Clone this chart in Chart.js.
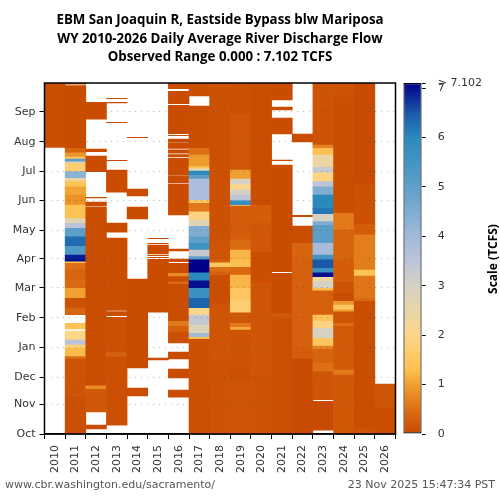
<!DOCTYPE html>
<html>
<head>
<meta charset="utf-8">
<title>EBM San Joaquin R daily flow</title>
<script src="https://cdn.jsdelivr.net/npm/chart.js@4"></script>
<style>
  html, body { margin: 0; padding: 0; background: #fff; }
  #wrap { position: relative; width: 500px; height: 500px; }
  canvas { position: absolute; left: 0; top: 0; }
</style>
</head>
<body>
<div id="wrap">
  <canvas id="heat" width="500" height="500"></canvas>
  <canvas id="bar" width="500" height="500"></canvas>
</div>
<script>
// Water years on the x axis
const waterYears = ['2010','2011','2012','2013','2014','2015','2016','2017','2018','2019','2020','2021','2022','2023','2024','2025','2026'];

// Day of water year where each month label sits
const monthDays = [0, 31, 59, 90, 121, 152, 182, 212, 243, 273, 304, 335];
const monthNames = ['Oct','Nov','Dec','Jan','Feb','Mar','Apr','May','Jun','Jul','Aug','Sep'];

// Title lines
const titleLines = ['EBM San Joaquin R, Eastside Bypass blw Mariposa', 'WY 2010-2026 Daily Average River Discharge Flow', 'Observed Range 0.000 : 7.102 TCFS'];

// Each row: [first day, last day, flow in TCFS]. Days with no row have no data.
const wy2010 = [[298,365,.05]];
const wy2011 = [[363.8,365,.03],[297,362.2,.03],[292.5,297,.35],[288,292.5,.9],[286,288,1.5],[283,286,5],[281.4,283,3],[272.8,281.4,1.7],[265.8,272.8,4.3],[262.4,265.8,2.4],[257,262.4,1.4],[248.5,257,1.05],[238,248.5,.85],[224,238,1.35],[219,224,2.7],[214,219,3.5],[205,214,5],[195,205,6.3],[186,195,5.3],[181,186,6.9],[179,181,7],[177.5,179,1.3],[171,177.5,.5],[160,171,.35],[151.4,160,.45],[141,151.4,1],[131,141,.1],[124,131,.35],[109.2,115,1.4],[97.7,107,2],[92.5,97.7,3.5],[89,92.5,1.8],[80.4,89,1.25],[78,80.4,.5],[40,78,.12],[0,40,.08]];
const wy2012 = [[327.5,345,.03],[293.6,296.4,.03],[272.8,289,.03],[245.6,246,.03],[237,241.2,.03],[50,235.6,.05],[46.4,50,.8],[23,46.4,.2],[5.4,9.2,.03]];
const wy2013 = [[348.7,349,.03],[344.4,344.8,.03],[323.8,324.2,.03],[284.3,284.7,.03],[251.6,274.5,.03],[210,219.4,.03],[128.4,203.8,.05],[123,127.2,.05],[85,121.2,.08],[80,85,.3],[9.3,80,.08]];
const wy2014 = [[308.2,308.6,.03],[247.5,254.8,.03],[223.6,236,.03],[68.6,161.1,.03],[39.5,47.8,.03]];
const wy2015 = [[203.2,203.6,.03],[198,198.4,.03],[187.2,196.5,.03],[185.4,185.8,.03],[183.4,183.8,.03],[126.8,181.6,.03],[77,79,.03]];
const wy2016 = [[359,365,.03],[343.4,356.4,.03],[312.4,341.7,.03],[310.2,310.6,.03],[304,306.6,.03],[297,303,.03],[292,295.4,.03],[288.5,290.6,.03],[269.6,287,.03],[261,268.8,.03],[227.7,260,.03],[190.3,192.4,.03],[179.2,182,.03],[167,177.4,.03],[163.6,167,.8],[158,163.6,.05],[156,158,.5],[117,156,.05],[112,117,.6],[106,112,.3],[94.6,106,.08],[78,85.2,.03],[58.2,67.6,.03],[38.4,45.7,.03]];
const wy2017 = [[351.5,365,.05],[297,341,.05],[290,297,.5],[278,290,.95],[276,278,1.4],[273.5,276,2.6],[269,273.5,6],[265,269,5],[243,265,3.8],[240,243,1.5],[231,240,.6],[222.5,231,1.9],[216,222.5,2.7],[205,216,4.5],[198.3,205,5],[191.3,198.3,5.6],[184.4,191.3,3.3],[181,184.4,5],[167.7,181,7.1],[159.4,167.7,6],[151.4,159.4,7],[141,151.4,5.7],[130.6,141,6.4],[123.7,130.6,2],[113.3,123.7,3.4],[104.6,113.3,2.8],[100.5,104.6,4],[98.4,100.5,1.3],[60,98.4,.1],[0,60,.08]];
const wy2018 = [[200,365,.1],[181,200,.14],[178,181,.3],[173.3,178,1.5],[168.8,173.3,.5],[165,168.8,.3],[135,165,.05],[78,135,.15],[0,78,.12]];
const wy2019 = [[333,365,.08],[274.5,333,.18],[265,274.5,1],[259,265,3],[254,259,2],[248.5,254,3],[242.6,248.5,3.5],[237.8,242.6,5.8],[237,237.8,1.5],[202,237,.25],[191.3,202,.45],[181,191.3,1.2],[173.3,181,1.3],[165.3,173.3,.4],[151.4,165.3,1.2],[139.3,151.4,1.5],[126,139.3,1.7],[115,126,.2],[111,115,.6],[108,111,1.1],[70,108,.13],[55,70,.1],[0,55,.14]];
const wy2020 = [[238,365,.05],[219,238,.25],[189,219,.18],[157,189,.06],[60,157,.16],[0,60,.12]];
const wy2021 = [[347.3,365,.03],[337,340,.03],[312,328.6,.03],[284.3,284.8,.03],[168.8,279.7,.03],[125.4,167,.03],[120,125.4,.2],[0,120,.08]];
const wy2022 = [[303.6,312,.03],[226,227.4,.03],[198.3,216.3,.05],[181,198.3,.35],[89,181,.3],[78,89,.25],[0,78,.02]];
const wy2023 = [[300.5,365,.13],[297,300.5,.7],[290,297,1.3],[277.3,290,2.4],[271.7,277.3,3.3],[262.4,271.7,1.9],[257,262.4,3.5],[248.5,257,4.5],[234.7,248.5,6],[228.4,234.7,6.2],[220.8,228.4,3],[217,220.8,4.5],[198.3,217,5.1],[186,198.3,3.9],[181,186,5.5],[172.2,181,6.5],[167.7,172.2,5.7],[162.9,167.7,7],[158.4,162.9,2.3],[151.4,158.4,3],[149,151.4,1.3],[123.7,149,.3],[117,123.7,1.4],[109.8,117,1.9],[99.4,109.8,3],[91.5,99.4,1.5],[88,91.5,.7],[73.5,88,.35],[65,73.5,.5],[35.6,65,.15],[4.1,34,.02]];
const wy2024 = [[350,365,.12],[263,350,.06],[229.5,263,.05],[212,229.5,.6],[181,212,.35],[158,181,.25],[146,158,.12],[138,146,.03],[134,138,.9],[129,134,1.5],[127,129,1],[115,127,.15],[112,115,.45],[66.5,112,.22],[61.3,66.5,.6],[0,61.3,.2]];
const wy2025 = [[260,365,.02],[218,260,.1],[207,218,.25],[181,207,.65],[170.5,181,.65],[164.3,170.5,1.4],[141,164.3,.55],[138,141,.45],[5,138,.05],[0,5,.15]];
const wy2026 = [[26.7,51.9,.15],[0,26.7,.05]];
const yearRows = [wy2010, wy2011, wy2012, wy2013, wy2014, wy2015, wy2016, wy2017, wy2018, wy2019, wy2020, wy2021, wy2022, wy2023, wy2024, wy2025, wy2026];

// Colour bar
const maxFlow = 7.102;
const barTicks = [0, 1, 2, 3, 4, 5, 6, 7, 7.102];
const stopValues = [0, .5, 1, 1.3, 2, 2.5, 3, 3.5, 3.8, 4, 5, 6, 6.5, 7.102];
const stopColors = ['#c84a00','#dd6f15','#f0a030','#fdc04f','#fdd68a','#e8d5a8','#d5d2c4','#bcc4d8','#adbddd','#a0bad8','#5e9fc9','#2a8abd','#1a58a8','#00008a'];

const tickFont = { family: 'DejaVu Sans', size: 11 };
const tickColor = '#333';

function hexToRgb(h) {
    return [parseInt(h.slice(1,3),16), parseInt(h.slice(3,5),16), parseInt(h.slice(5,7),16)];
}

// Colour for a flow value, same ramp as the colour bar
function flowColor(v) {
    for (let i = 1; i < stopValues.length; i++) {
        if (v <= stopValues[i]) {
            const t = (v - stopValues[i-1]) / (stopValues[i] - stopValues[i-1]);
            const a = hexToRgb(stopColors[i-1]);
            const b = hexToRgb(stopColors[i]);
            return `rgb(${a.map((c, k) => Math.round(c + (b[k] - c) * t)).join(',')})`;
        }
    }
    return stopColors[stopColors.length - 1];
}

// All four spines, the y axis border is switched off below
const framePlugin = {
    id: 'frame',
    afterDraw(chart) {
        const a = chart.chartArea;
        const ctx = chart.ctx;
        ctx.save();
        ctx.strokeStyle = '#000';
        ctx.lineWidth = 1.5;
        ctx.strokeRect(a.left, a.top, a.right - a.left, a.bottom - a.top);
        ctx.restore();
    }
};

// Title over the plot area and the two footer strings
const textPlugin = {
    id: 'texts',
    afterDraw(chart) {
        const ctx = chart.ctx;
        ctx.save();
        ctx.textBaseline = 'middle';
        ctx.font = 'bold 13.3px "Open Sans"';
        ctx.fillStyle = '#000';
        ctx.textAlign = 'center';
        titleLines.forEach((line, i) => ctx.fillText(line, 220, 20 + i * 18.8));
        ctx.font = '11px "DejaVu Sans"';
        ctx.fillStyle = '#555';
        ctx.textAlign = 'left';
        ctx.fillText('www.cbr.washington.edu/sacramento/', 5, 485);
        ctx.textAlign = 'right';
        ctx.fillText('23 Nov 2025 15:47:34 PST', 495, 485);
        ctx.restore();
    }
};

const scaleTitlePlugin = {
    id: 'scaleTitle',
    afterDraw(chart) {
        const ctx = chart.ctx;
        ctx.save();
        ctx.translate(494, 259);
        ctx.rotate(-Math.PI / 2);
        ctx.font = 'bold 12px "Open Sans"';
        ctx.fillStyle = '#000';
        ctx.textAlign = 'center';
        ctx.textBaseline = 'middle';
        ctx.fillText('Scale (TCFS)', 0, 0);
        ctx.restore();
    }
};

// Flatten the year rows into floating bars
const cells = [];
yearRows.forEach((rows, i) => {
    rows.forEach(r => cells.push({ x: waterYears[i], y: [r[0], r[1]], v: r[2] }));
});

new Chart(document.getElementById('heat'), {
    type: 'bar',
    data: {
        labels: waterYears,
        datasets: [{
            data: cells,
            grouped: false,
            categoryPercentage: 1,
            barPercentage: 1,
            borderWidth: 0,
            backgroundColor: ctx => flowColor(ctx.raw.v)
        }]
    },
    plugins: [framePlugin, textPlugin],
    options: {
        responsive: false,
        animation: false,
        layout: { padding: { left: 0, right: 104.5, top: 83, bottom: 0 } },
        plugins: {
            legend: { display: false },
            tooltip: { enabled: false }
        },
        scales: {
            x: {
                afterFit: s => { s.height = 66; },
                grid: { drawOnChartArea: false, tickLength: 5, tickColor: '#000', tickWidth: 1 },
                border: { color: '#000', width: 1.5 },
                ticks: { font: tickFont, color: tickColor, minRotation: 90, maxRotation: 90, autoSkip: false, padding: 6 }
            },
            y: {
                min: 0,
                max: 365,
                afterFit: s => { s.width = 44.5; },
                afterBuildTicks: s => { s.ticks = monthDays.map(d => ({ value: d })); },
                grid: { z: 1, color: 'rgba(60,60,60,0.35)', lineWidth: 1, tickLength: 5, tickColor: '#000', tickWidth: 1 },
                border: { display: false, dash: [1, 5] },
                ticks: {
                    font: tickFont,
                    color: tickColor,
                    padding: 4,
                    autoSkip: false,
                    callback: v => monthNames[monthDays.indexOf(v)]
                }
            }
        }
    }
});

// Colour bar, one floating bar with the ramp as gradient and a black outline
new Chart(document.getElementById('bar'), {
    type: 'bar',
    data: {
        labels: ['scale'],
        datasets: [{
            data: [[0, maxFlow]],
            categoryPercentage: 1,
            barPercentage: 1,
            borderWidth: 1.25,
            borderColor: '#000',
            borderSkipped: false,
            inflateAmount: 0,
            backgroundColor: ctx => {
                const area = ctx.chart.chartArea;
                if (!area) return stopColors[0];
                const g = ctx.chart.ctx.createLinearGradient(0, area.bottom, 0, area.top);
                stopValues.forEach((v, i) => g.addColorStop(v / maxFlow, stopColors[i]));
                return g;
            }
        }]
    },
    plugins: [scaleTitlePlugin],
    options: {
        responsive: false,
        animation: false,
        layout: { padding: { left: 403.3, right: 0, top: 83, bottom: 66 } },
        plugins: { legend: { display: false }, tooltip: { enabled: false } },
        scales: {
            x: { display: false },
            y: {
                position: 'right',
                min: 0,
                max: maxFlow,
                afterFit: s => { s.width = 78.3; },
                afterBuildTicks: s => { s.ticks = barTicks.map(v => ({ value: v })); },
                grid: { drawOnChartArea: false, tickLength: 4, tickColor: '#000', tickWidth: 1 },
                border: { display: false },
                ticks: {
                    font: tickFont,
                    color: tickColor,
                    padding: 12,
                    autoSkip: false,
                    callback: v => v === maxFlow ? '> 7.102' : String(v)
                }
            }
        }
    }
});
</script>
</body>
</html>
